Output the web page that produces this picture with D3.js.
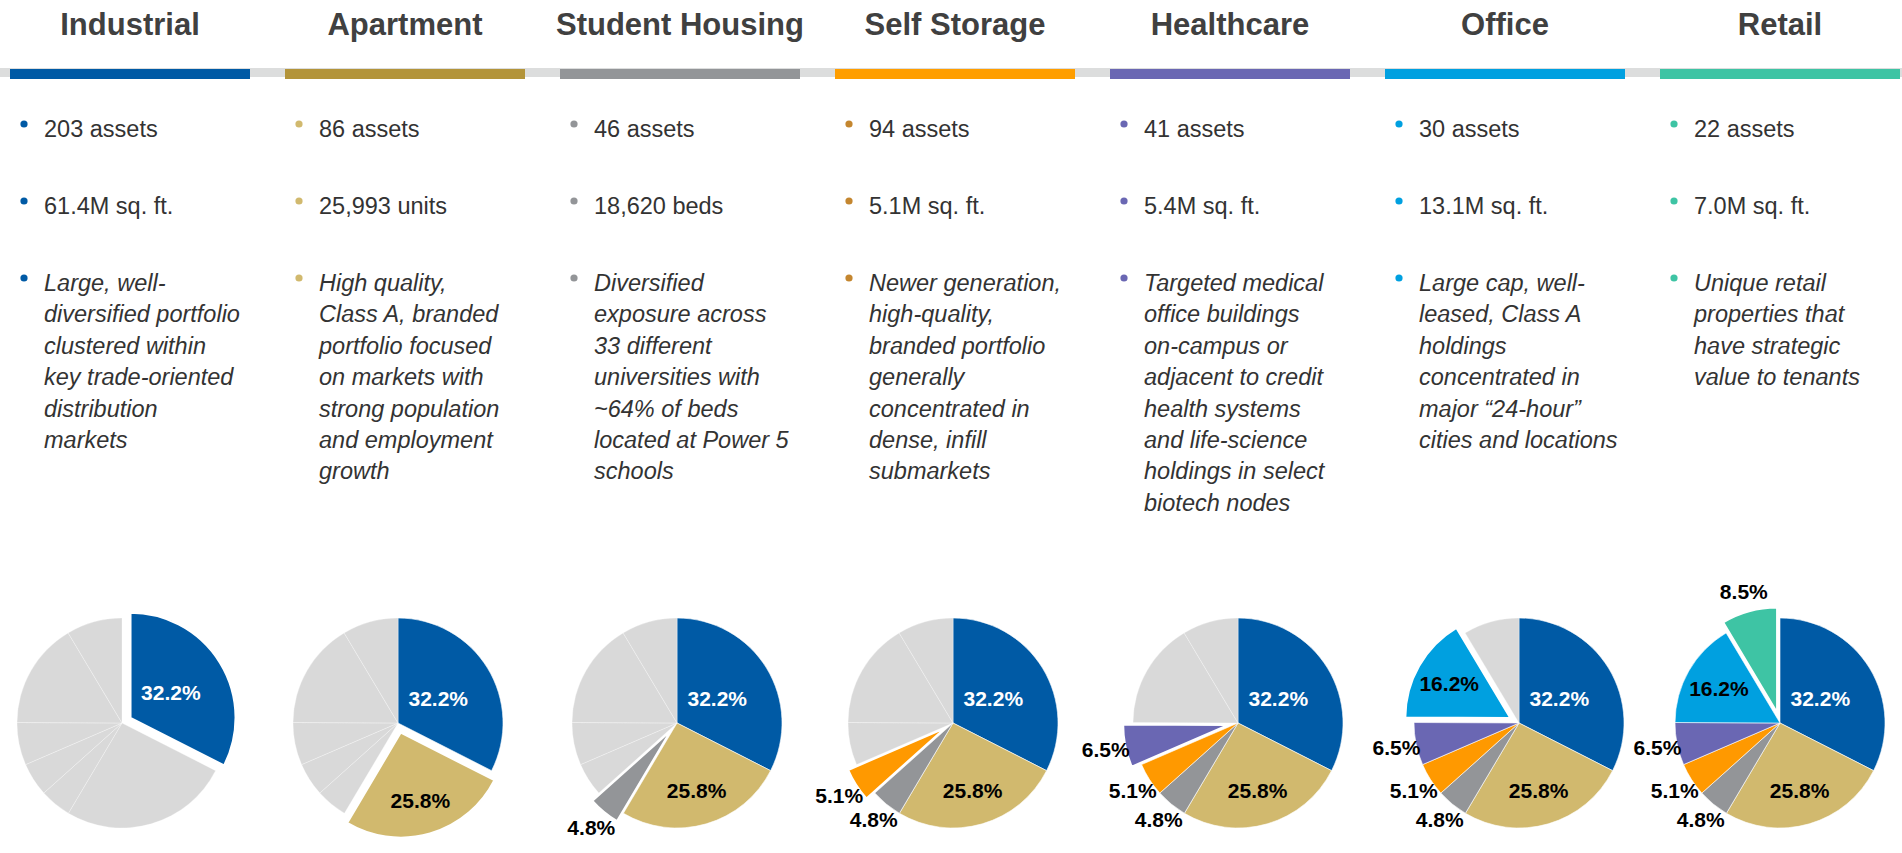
<!DOCTYPE html>
<html>
<head>
<meta charset="utf-8">
<title>Portfolio by sector</title>
<script src="https://d3js.org/d3.v7.min.js"></script>
<style>
  body { margin: 0; background: #fff; }
  svg text { font-family: Arial, "Liberation Sans", sans-serif; }
</style>
</head>
<body>
<div id="chart"></div>
<script>
// sectors left to right; also the slice order, clockwise from 12 o'clock
const sectors = ["Industrial", "Apartment", "Student Housing", "Self Storage", "Healthcare", "Office", "Retail"];
const shares = [32.2, 25.8, 4.8, 5.1, 6.5, 16.2, 8.5];

const assetCounts = ["203 assets", "86 assets", "46 assets", "94 assets", "41 assets", "30 assets", "22 assets"];
const sizes = ["61.4M sq. ft.", "25,993 units", "18,620 beds", "5.1M sq. ft.", "5.4M sq. ft.", "13.1M sq. ft.", "7.0M sq. ft."];

const descIndustrial = ["Large, well-", "diversified portfolio", "clustered within", "key trade-oriented", "distribution", "markets"];
const descApartment = ["High quality,", "Class A, branded", "portfolio focused", "on markets with", "strong population", "and employment", "growth"];
const descStudent = ["Diversified", "exposure across", "33 different", "universities with", "~64% of beds", "located at Power 5", "schools"];
const descStorage = ["Newer generation,", "high-quality,", "branded portfolio", "generally", "concentrated in", "dense, infill", "submarkets"];
const descHealthcare = ["Targeted medical", "office buildings", "on-campus or", "adjacent to credit", "health systems", "and life-science", "holdings in select", "biotech nodes"];
const descOffice = ["Large cap, well-", "leased, Class A", "holdings", "concentrated in", "major \u201c24-hour\u201d", "cities and locations"];
const descRetail = ["Unique retail", "properties that", "have strategic", "value to tenants"];
const descriptions = [descIndustrial, descApartment, descStudent, descStorage, descHealthcare, descOffice, descRetail];

// colours
const barColors = ["#005aa5", "#b3943a", "#939598", "#ff9e00", "#6a67b3", "#00a0e0", "#3ec4a4"];
const sliceColors = ["#005aa5", "#d1b96e", "#939598", "#ff9900", "#6a67b3", "#00a0e0", "#3ec4a4"];
const dotColors = ["#005aa5", "#d1b96e", "#939598", "#c4862f", "#6a67b3", "#00a0e0", "#3ec4a4"];
const inactive = "#d9d9d9";

// layout
const W = 1902, H = 853;
const pieDx = [112, 113, 117, 118, 128, 134, 120];   // pie centre, from bar start
const pieCy = 723, R = 105;
const innerLabelR = [0.45, 0.67, 0, 0, 0, 0.67, 0];  // 0 = label outside the pie
const outerLabelR = 125;

const svg = d3.select("#chart").append("svg")
    .attr("width", W)
    .attr("height", H);

const x = d3.scaleBand()
    .domain(sectors)
    .range([10, 1900])
    .paddingInner(0.1273);

// header strip
svg.append("rect")
    .attr("x", 0).attr("y", 68)
    .attr("width", W).attr("height", 9)
    .attr("fill", "#dcdddd");

svg.selectAll(".bar")
    .data(sectors)
    .enter().append("rect")
    .attr("class", "bar")
    .attr("x", d => x(d))
    .attr("y", 69)
    .attr("width", x.bandwidth())
    .attr("height", 10)
    .attr("fill", (d, i) => barColors[i]);

svg.selectAll(".title")
    .data(sectors)
    .enter().append("text")
    .attr("class", "title")
    .attr("x", d => x(d) + x.bandwidth() / 2)
    .attr("y", 35)
    .attr("text-anchor", "middle")
    .style("font-size", "31px")
    .style("font-weight", "bold")
    .attr("fill", "#404040")
    .text(d => d);

// bullet text
const textColor = "#333333";
const lineGap = 31.4;

sectors.forEach((s, i) => {
    const g = svg.append("g").attr("transform", `translate(${x(s)},0)`);
    const bullets = [
        { y: 137, lines: [assetCounts[i]], italic: false },
        { y: 214, lines: [sizes[i]], italic: false },
        { y: 291, lines: descriptions[i], italic: true }
    ];
    bullets.forEach(b => {
        g.append("circle")
            .attr("cx", 14)
            .attr("cy", b.y - 13)
            .attr("r", 3.6)
            .attr("fill", dotColors[i]);
        const t = g.append("text")
            .attr("x", 34)
            .attr("y", b.y)
            .attr("fill", textColor)
            .style("font-size", "23.5px")
            .style("font-style", b.italic ? "italic" : "normal");
        t.selectAll("tspan")
            .data(b.lines)
            .enter().append("tspan")
            .attr("x", 34)
            .attr("dy", (d, k) => k === 0 ? 0 : lineGap)
            .text(d => d);
    });
});

// pies
const pie = d3.pie().sort(null).value(d => d);
const arcs = pie(shares);
const arc = d3.arc().innerRadius(0).outerRadius(R);

function dir(a) { return [Math.sin(a), -Math.cos(a)]; }

sectors.forEach((s, i) => {
    const cx = x(s) + pieDx[i];
    const g = svg.append("g").attr("transform", `translate(${cx},${pieCy})`);
    const boom = i === 6 ? 11 : 10;

    // exploded slice last so its white edge sits on top
    const order = arcs.map((a, j) => j).filter(j => j !== i).concat([i]);
    order.forEach(j => {
        const a = arcs[j];
        const mid = (a.startAngle + a.endAngle) / 2;
        const [ux, uy] = dir(mid);
        const off = j === i ? boom : 0;
        const lit = j <= i;
        g.append("path")
            .attr("d", arc(a))
            .attr("transform", `translate(${ux * off},${uy * off})`)
            .attr("fill", lit ? sliceColors[j] : inactive)
            .attr("stroke", "#fff")
            .attr("stroke-opacity", j === i ? 1 : (lit ? 0.6 : 0.3))
            .attr("stroke-width", j === i ? 2 : 1);
    });

    // labels for the coloured slices
    arcs.forEach((a, j) => {
        if (j > i) return;
        const mid = (a.startAngle + a.endAngle) / 2;
        const [ux, uy] = dir(mid);
        const off = j === i ? boom : 0;
        const r = innerLabelR[j] > 0 ? innerLabelR[j] * R : outerLabelR;
        g.append("text")
            .attr("x", ux * (r + off))
            .attr("y", uy * (r + off))
            .attr("dy", "0.35em")
            .attr("text-anchor", "middle")
            .style("font-size", "21px")
            .style("font-weight", "bold")
            .attr("fill", j === 0 ? "#fff" : "#000")
            .text(d3.format(".1f")(shares[j]) + "%");
    });
});
</script>
</body>
</html>
